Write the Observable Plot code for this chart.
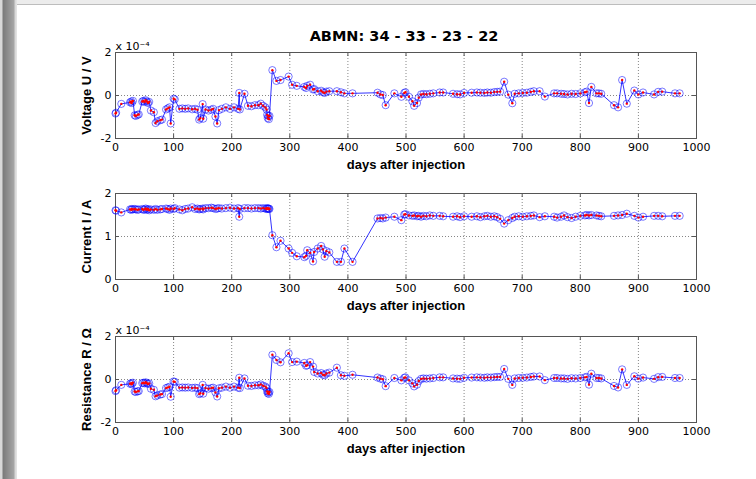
<!DOCTYPE html>
<html><head><meta charset="utf-8">
<script src="https://cdn.jsdelivr.net/npm/d3@7"></script>
<script src="https://cdn.jsdelivr.net/npm/@observablehq/plot@0.6"></script>
<style>
html,body{margin:0;padding:0;background:#fff;}
#page{position:relative;width:756px;height:479px;overflow:hidden;background:#fff;}
#lbar{position:absolute;left:0;top:0;width:17px;height:479px;background:linear-gradient(to right,#d8d8d8 0px,#d8d8d8 2px,#7a7a7a 3px,#a6a6a6 14px,#d6d6d6 15px,#e6e6e6 17px);}
#tbar{position:absolute;left:17px;top:0;right:0;height:4px;background:#ececec;border-bottom:1px solid #bdbdbd;}
#title{position:absolute;left:254px;width:300px;top:28px;text-align:center;font:bold 14.5px "DejaVu Sans",sans-serif;line-height:17px;color:#000;}
.panel{position:absolute;left:0;}
.panel svg{overflow:visible;}
.panel g[aria-label="x-axis label"] text,.panel g[aria-label="y-axis label"] text{font-family:"Liberation Sans",Arial,sans-serif;font-weight:bold;font-size:13px;}
</style></head>
<body><div id="page"><div id="lbar"></div><div id="tbar"></div>
<div id="title">ABMN: 34 - 33 - 23 - 22</div>
<div id="p1" class="panel"></div><div id="p2" class="panel"></div><div id="p3" class="panel"></div>
</div>
<script>
const days = [0,1,10,25,27,28,30,33,35,38,
40,46,48,50,52,54,56,58,61,66,
69,72,77,80,87,90,93,95,100,102,
110,115,120,125,132,137,141,144,146,150,
151,155,160,165,168,172,175,178,183,190,
197,204,211,213,214,222,228,234,240,246,
250,254,258,260,261,262,263,264,265,270,
277,284,298,304,312,325,328,330,335,340,
342,348,354,357,360,363,368,381,388,394,
408,451,456,460,465,480,492,497,499,505,
511,514,519,522,526,530,535,541,547,558,
564,581,588,593,600,613,622,628,635,640,
646,652,657,662,669,676,683,687,694,701,
708,715,720,730,739,755,760,767,772,778,
785,792,800,808,811,815,819,828,832,836,
858,865,872,880,893,900,908,927,934,941,
963,971];
// voltage in units of 1e-4 V
const voltage = [-0.84,-0.80,-0.39,-0.32,-0.28,-0.35,-0.25,-0.92,-0.95,-0.90,
-0.88,-0.28,-0.25,-0.30,-0.22,-0.28,-0.35,-0.30,-0.70,-0.78,
-1.28,-1.20,-1.15,-1.12,-0.65,-0.60,-0.55,-1.30,-0.15,-0.18,
-0.62,-0.60,-0.62,-0.60,-0.64,-0.62,-0.66,-1.12,-1.05,-0.40,
-1.08,-0.65,-0.70,-0.66,-0.62,-0.98,-1.30,-0.68,-0.62,-0.55,
-0.62,-0.55,-0.62,0.12,-0.65,0.08,-0.48,-0.50,-0.45,-0.45,
-0.38,-0.48,-0.55,-0.65,-0.90,-1.05,-0.95,-1.10,-0.95,1.18,
0.68,0.72,0.88,0.50,0.45,0.40,0.35,0.45,0.50,0.28,
0.30,0.20,0.22,0.15,0.12,0.18,0.20,0.20,0.15,0.10,
0.10,0.13,0.05,0.02,-0.45,0.10,-0.06,0.12,0.15,-0.06,
-0.27,-0.48,-0.35,-0.10,0.05,0.07,0.06,0.08,0.10,0.14,
0.14,0.08,0.06,0.05,0.12,0.13,0.14,0.13,0.12,0.14,
0.13,0.16,0.17,0.18,0.64,0.04,-0.36,0.08,0.10,0.12,
0.13,0.17,0.20,0.20,-0.05,0.10,0.10,0.08,0.07,0.05,
0.08,0.07,0.10,0.15,0.18,-0.35,0.40,0.10,0.10,0.08,
-0.45,-0.55,0.72,-0.38,0.23,0.05,0.14,0.05,0.17,0.18,
0.10,0.10];
// current in A
const current = [1.61,1.60,1.56,1.63,1.62,1.64,1.63,1.64,1.63,1.62,
1.63,1.64,1.62,1.63,1.65,1.62,1.64,1.61,1.63,1.62,
1.64,1.62,1.63,1.64,1.65,1.64,1.62,1.65,1.64,1.66,
1.63,1.61,1.64,1.65,1.68,1.64,1.65,1.63,1.64,1.65,
1.63,1.66,1.66,1.67,1.66,1.64,1.65,1.66,1.65,1.66,
1.67,1.65,1.66,1.46,1.64,1.66,1.66,1.65,1.66,1.66,
1.65,1.66,1.65,1.64,1.66,1.65,1.64,1.65,1.64,1.03,
0.75,0.90,0.72,0.62,0.54,0.52,0.55,0.68,0.62,0.42,
0.64,0.72,0.78,0.70,0.53,0.66,0.63,0.41,0.41,0.72,
0.41,1.42,1.43,1.42,1.44,1.46,1.38,1.51,1.52,1.49,
1.48,1.49,1.47,1.48,1.46,1.48,1.47,1.49,1.48,1.48,
1.47,1.46,1.47,1.45,1.47,1.46,1.47,1.45,1.47,1.48,
1.46,1.47,1.45,1.41,1.30,1.38,1.43,1.46,1.47,1.46,
1.47,1.48,1.49,1.45,1.47,1.46,1.44,1.46,1.49,1.45,
1.43,1.46,1.48,1.49,1.50,1.49,1.50,1.49,1.48,1.47,
1.48,1.49,1.50,1.53,1.48,1.44,1.46,1.48,1.48,1.47,
1.48,1.48];
// resistance in units of 1e-4 Ohm
const resistance = [-0.54,-0.50,-0.25,-0.20,-0.17,-0.22,-0.15,-0.56,-0.58,-0.55,
-0.54,-0.17,-0.15,-0.18,-0.13,-0.17,-0.21,-0.18,-0.43,-0.48,
-0.78,-0.74,-0.70,-0.68,-0.40,-0.37,-0.34,-0.80,-0.09,-0.11,
-0.38,-0.37,-0.38,-0.37,-0.39,-0.38,-0.40,-0.68,-0.64,-0.25,
-0.66,-0.40,-0.43,-0.40,-0.38,-0.60,-0.79,-0.41,-0.38,-0.33,
-0.38,-0.33,-0.38,0.08,-0.40,0.05,-0.29,-0.30,-0.27,-0.27,
-0.23,-0.29,-0.33,-0.40,-0.55,-0.64,-0.58,-0.67,-0.58,1.15,
0.91,0.80,1.22,0.81,0.83,0.77,0.64,0.66,0.81,0.60,
0.35,0.28,0.30,0.22,0.20,0.28,0.32,0.55,0.20,0.17,
0.22,0.09,0.04,0.01,-0.31,0.07,-0.04,0.08,0.10,-0.04,
-0.18,-0.32,-0.24,-0.07,0.03,0.05,0.04,0.05,0.07,0.10,
0.10,0.05,0.04,0.03,0.08,0.09,0.10,0.09,0.08,0.10,
0.09,0.11,0.12,0.12,0.49,0.03,-0.25,0.05,0.07,0.08,
0.09,0.12,0.14,0.14,-0.03,0.07,0.07,0.05,0.05,0.03,
0.06,0.05,0.07,0.10,0.12,-0.24,0.27,0.07,0.07,0.05,
-0.30,-0.37,0.47,-0.25,0.15,0.04,0.09,0.03,0.11,0.12,
0.07,0.07];
const xTicks = [0,100,200,300,400,500,600,700,800,900,1000];
const yTicksSigned = [-2,0,2];
const yTicksCurrent = [0,1,2];
const titleText = "ABMN: 34 - 33 - 23 - 22";
const xLabel = "days after injection";
const exponentLabel = "x 10\u207B\u2074";

const W = 756, ML = 115, MR = 60, FH = 86, MT = 20, MB = 40;
const FW = W - ML - MR;

function panel(id, values, cfg) {
  const rows = days.map((d, i) => ({day: d, v: values[i]}));
  const gridStyle = {stroke: "#000", strokeOpacity: 0.6, strokeDasharray: "1,2", strokeWidth: 0.8};
  const tickStyle = {stroke: "#555", strokeWidth: 1};
  const marks = [
    Plot.gridX(xTicks, gridStyle),
    Plot.gridY(cfg.ticks, gridStyle),
    Plot.tickX(xTicks, {x: d => d, ...tickStyle, insetTop: FH - 4}),
    Plot.tickX(xTicks, {x: d => d, ...tickStyle, insetBottom: FH - 4}),
    Plot.tickY(cfg.ticks, {y: d => d, ...tickStyle, insetRight: FW - 4}),
    Plot.tickY(cfg.ticks, {y: d => d, ...tickStyle, insetLeft: FW - 4}),
    Plot.frame({stroke: "#555", strokeWidth: 1}),
    Plot.axisX(xTicks, {tickSize: 0, tickPadding: 5, tickFormat: d => String(d), label: xLabel, labelAnchor: "center", labelArrow: "none", labelOffset: 30}),
    Plot.axisY(cfg.ticks, {tickSize: 0, tickPadding: 4, tickFormat: d => String(d), label: cfg.label, labelAnchor: "center", labelArrow: "none", labelOffset: 34}),
    Plot.line(rows, {x: "day", y: "v", stroke: "#0000ff", strokeWidth: 0.8}),
    Plot.dot(rows, {x: "day", y: "v", r: 3.6, stroke: "#0000ff", strokeWidth: 0.7, strokeOpacity: 0.75, fill: "none"}),
    Plot.dot(rows, {x: "day", y: "v", r: 1.2, fill: "#ff0000"})
  ];
  if (cfg.exp) marks.push(Plot.text([exponentLabel], {frameAnchor: "top-left", text: d => d, textAnchor: "start", lineAnchor: "bottom", dy: -3, fontSize: 11}));
  const chart = Plot.plot({
    width: W, height: MT + FH + MB,
    marginLeft: ML, marginRight: MR, marginTop: MT, marginBottom: MB,
    x: {domain: [0, 1000]},
    y: {domain: cfg.domain},
    style: {fontFamily: "'DejaVu Sans', sans-serif", fontSize: "11px", background: "transparent", color: "#000"},
    marks
  });
  const el = document.getElementById(id);
  el.style.top = (cfg.frameTop - MT) + "px";
  el.appendChild(chart);
}
document.getElementById("title").textContent = titleText;
panel("p1", voltage, {label: "Voltage U / V", domain: [-2, 2], ticks: yTicksSigned, frameTop: 51.7, exp: true});
panel("p2", current, {label: "Current I / A", domain: [0, 2], ticks: yTicksCurrent, frameTop: 193.3, exp: false});
panel("p3", resistance, {label: "Resistance R / \u03A9", domain: [-2, 2], ticks: yTicksSigned, frameTop: 336.3, exp: true});
</script>
</body></html>
